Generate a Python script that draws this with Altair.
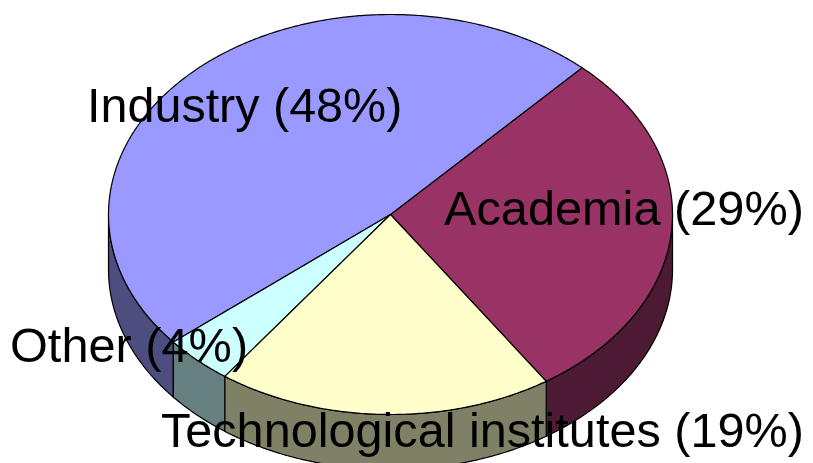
import math
import altair as alt
import pandas as pd

names = ["Academia", "Technological institutes", "Other", "Industry"]
shares = [28.8, 19.3, 4.0, 47.9]
top_colors = ["#993366", "#FFFFCC", "#CCFFFF", "#9999FF"]
wall_colors = ["#4D1A33", "#808066", "#668080", "#4D4D80"]

# Page-pixel layout of the tilted pie
CX, CY, RX, RY, DEPTH = 390.5, 214.5, 282.0, 200.0, 55.0
START = 42.8  # degrees clockwise from the top
LABEL_X = [444, 161, 10, 87]
LABEL_Y = [225, 447, 362, 122]
LABEL_SIZE = [48.7, 48.6, 48.7, 48.5]


def pt(a, dy=0.0):
    r = math.radians(a)
    return CX + RX * math.sin(r), CY - RY * math.cos(r) + dy


rows = []
a0 = START
for name, share, tc, wc in zip(names, shares, top_colors, wall_colors):
    a1 = a0 + share * 3.6
    n = max(8, int((a1 - a0) * 2))
    arc = [a0 + (a1 - a0) * i / n for i in range(n + 1)]
    lo, hi = max(a0, 90), min(a1, 270)
    if lo < hi:
        m = max(4, int((hi - lo) * 2))
        w = [lo + (hi - lo) * i / m for i in range(m + 1)]
        poly = [pt(a) for a in w] + [pt(a, DEPTH) for a in reversed(w)]
        poly.append(poly[0])
        for i, (x, y) in enumerate(poly):
            rows.append(dict(key=f"0 wall {name}", x=x, y=y, i=i, color=wc))
    poly = [(CX, CY)] + [pt(a) for a in arc] + [(CX, CY)]
    for i, (x, y) in enumerate(poly):
        rows.append(dict(key=f"1 top {name}", x=x, y=y, i=i, color=tc))
    a0 = a1

df = pd.DataFrame(rows)
xs = alt.Scale(domain=[8, 805], range=[0, 797])
ys = alt.Scale(domain=[8, 463], range=[0, 455])

parts = []
for key, g in df.groupby("key", sort=True):
    parts.append(
        alt.Chart(g).mark_line(
            fill=g["color"].iloc[0], stroke="black", strokeWidth=1.2, strokeJoin="miter",
            clip=True,
        ).encode(
            x=alt.X("x:Q", scale=xs, axis=None),
            y=alt.Y("y:Q", scale=ys, axis=None),
            order="i:Q",
        )
    )

labels = pd.DataFrame({
    "label": [f"{n} ({round(s)}%)" for n, s in zip(names, shares)],
    "x": LABEL_X,
    "y": LABEL_Y,
    "size": LABEL_SIZE,
})
text = alt.Chart(labels).mark_text(
    align="left", baseline="alphabetic", font="Liberation Sans", color="black",
).encode(
    x=alt.X("x:Q", scale=xs, axis=None),
    y=alt.Y("y:Q", scale=ys, axis=None),
    size=alt.Size("size:Q", scale=None, legend=None),
    text="label:N",
)

chart = alt.layer(*parts, text).properties(
    width=797, height=455, padding=0,
    autosize=alt.AutoSizeParams(type="none"),
    background="white",
).configure_view(stroke=None)

chart.save("out.html", embed_options={"renderer": "svg", "actions": False})
